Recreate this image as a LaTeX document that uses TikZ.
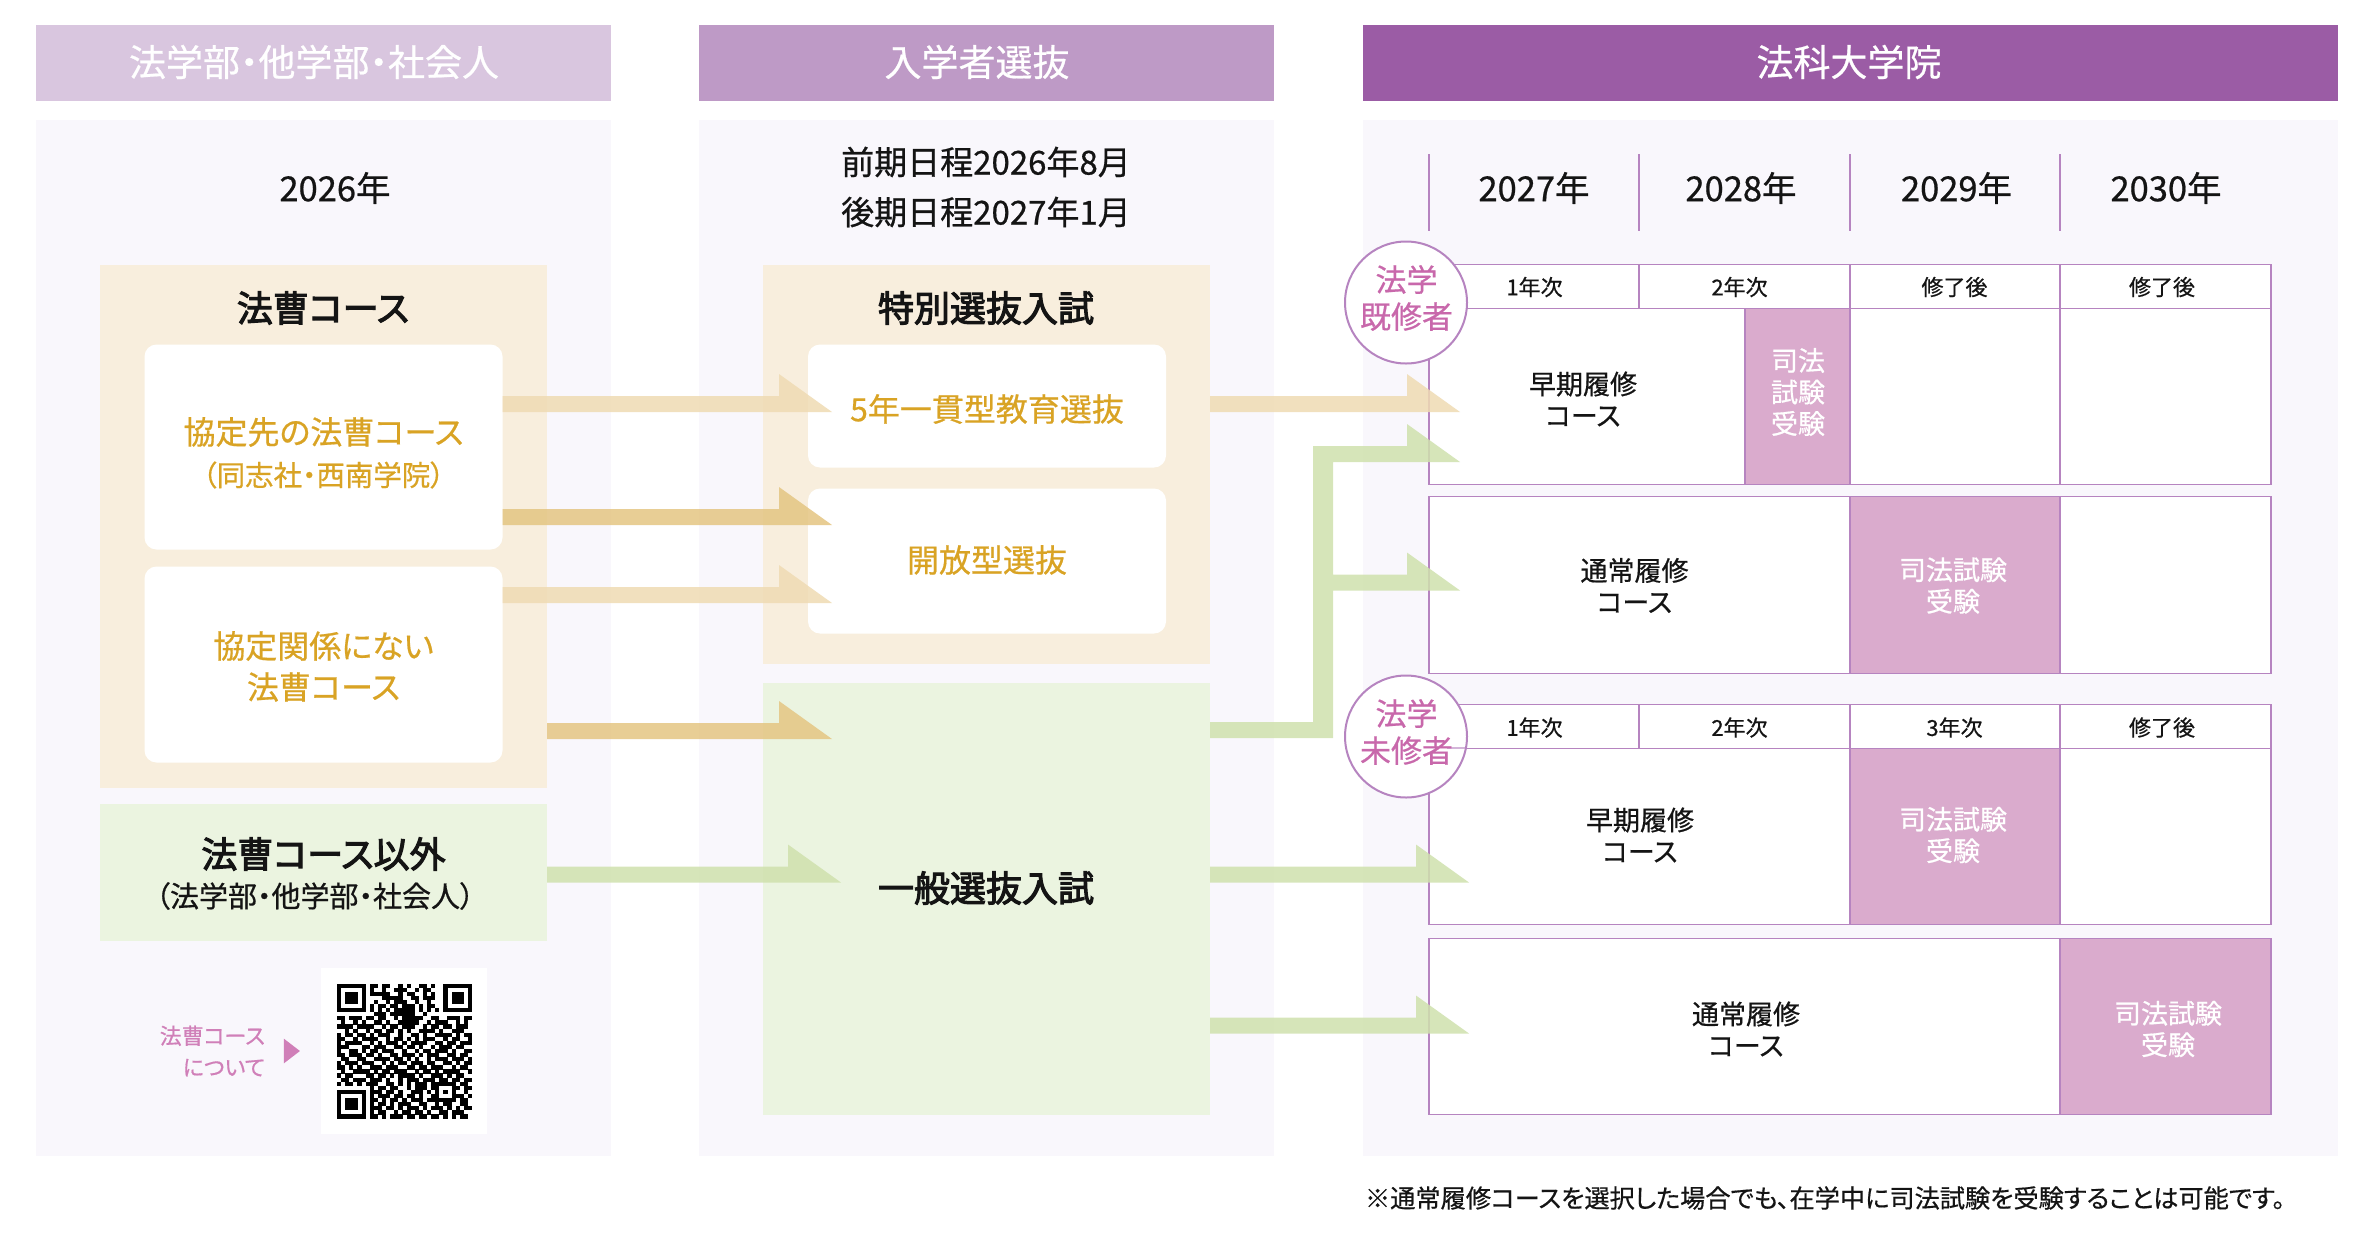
\documentclass[tikz,border=0pt]{standalone}
\usepackage{fontspec}
\setmainfont{Noto Sans CJK JP}[RawFeature=+palt, FakeBold=0.6]
\newfontfamily\ttlfont{Noto Sans CJK JP}[RawFeature=+palt, FakeBold=3]
\usepackage{tikz}
\usetikzlibrary{shapes}
\definecolor{hdra}{HTML}{D9C6DF}
\definecolor{hdrb}{HTML}{BE9AC6}
\definecolor{hdrc}{HTML}{9B5CA5}
\definecolor{panelbg}{HTML}{F9F7FC}
\definecolor{orgbg}{HTML}{F8EEDD}
\definecolor{grnbg}{HTML}{EBF4E0}
\definecolor{orgtxt}{HTML}{D9A324}
\definecolor{pinkbg}{HTML}{DAABCD}
\definecolor{pinktxt}{HTML}{C868AB}
\definecolor{rulec}{HTML}{B684C0}
\definecolor{arrowl}{HTML}{EFDBB3}
\definecolor{arrowd}{HTML}{E4C582}
\definecolor{arrowg}{HTML}{CFE1AD}
\newcommand{\fsz}[1]{\fontsize{#1}{#1}\selectfont}
\newcommand{\fatarrow}[3]{\fill[#1] (#2 |- #3) -- (#3) -- ++(-53,-38) -- ++(0,22) -| (#2 |- #3);}
\newcount\qrcol
\newcommand{\qrbits}[2]{\global\qrcol=0 \def\qrline{#1}\qrnext#2;}
\def\qrnext#1{\ifx#1;\else\if#11\fill (\the\qrcol,\qrline) rectangle +(1.03,1.03);\fi\global\advance\qrcol by 1 \expandafter\qrnext\fi}

\begin{document}
\begin{tikzpicture}[x=1pt, y=-1pt]
      \tikzstyle{every node}=[inner sep=0pt, outer sep=0pt, text=black!92]
      \tikzstyle{hdr}=[text=white, font=\fsz{37}]
      \tikzstyle{ttl}=[font=\fsz{36}\ttlfont]
      \tikzstyle{yr}=[font=\fsz{34.5}]
      \tikzstyle{sub}=[font=\fsz{22}]
      \tikzstyle{crs}=[font=\fontsize{27}{31.5}\selectfont, align=center]
      \tikzstyle{exam}=[crs, text=white]
      \tikzstyle{ora}=[text=orgtxt, font=\fontsize{32}{41}\selectfont, align=center]
      \tikzstyle{wbox}=[fill=white, rounded corners=12pt]
      \tikzstyle{tab}=[fill=white, draw=rulec, line width=1.7pt]
      \tikzstyle{pnk}=[fill=pinkbg, draw=rulec, line width=1.4pt]
      \tikzstyle{rule}=[draw=rulec, line width=1.4pt]
      \tikzstyle{cir}=[circle, fill=white, draw=rulec, line width=2pt, minimum size=122pt]
      \tikzstyle{cirt}=[text=pinktxt, font=\fontsize{31}{37}\selectfont, align=center]
      %%
      \useasboundingbox (0,0) rectangle (2372,1248);
      \node (hdr_a) at (323.5,62.5) [fill=hdra, minimum width=575pt, minimum height=76pt] {};
      \node (hdr_b) at (986.5,62.5) [fill=hdrb, minimum width=575pt, minimum height=76pt] {};
      \node (hdr_c) at (1850.5,62.5) [fill=hdrc, minimum width=975pt, minimum height=76pt] {};
      \node at (314,62) [hdr] {法学部・他学部・社会人};
      \node at (977,62) [hdr] {入学者選抜};
      \node at (1849,62) [hdr] {法科大学院};
      \node (pan_a) at (323.5,638) [fill=panelbg, minimum width=575pt, minimum height=1036pt] {};
      \node (pan_b) at (986.5,638) [fill=panelbg, minimum width=575pt, minimum height=1036pt] {};
      \node (pan_c) at (1850.5,638) [fill=panelbg, minimum width=975pt, minimum height=1036pt] {};
      %%
      \node (org_l) at (323.5,526) [fill=orgbg, minimum width=447pt, minimum height=523pt] {};
      \node (grn_l) at (323.5,872) [fill=grnbg, minimum width=447pt, minimum height=137pt] {};
      \node (wb_a) at (323.5,447) [wbox, minimum width=358pt, minimum height=205pt] {};
      \node (wb_b) at (323.5,664.5) [wbox, minimum width=358pt, minimum height=196pt] {};
      \node (org_m) at (986.5,464.5) [fill=orgbg, minimum width=447pt, minimum height=399pt] {};
      \node (gen_m) at (986.5,898.5) [fill=grnbg, minimum width=447pt, minimum height=432pt] {};
      \node (wb_c) at (987,406) [wbox, minimum width=358pt, minimum height=123pt] {};
      \node (wb_d) at (987,561) [wbox, minimum width=358pt, minimum height=145pt] {};
      \node at (335,188) [yr] {2026年};
      \node at (323,308) [ttl] {法曹コース};
      \node at (323.5,432) [ora] {協定先の法曹コース};
      \node at (323.5,475) [ora, font=\fsz{28.5}] {（同志社・西南学院）};
      \node at (323.5,666.5) [ora] {協定関係にない\\法曹コース};
      \node at (323.5,854) [ttl] {法曹コース以外};
      \node at (315,896) [font=\fsz{29}] {（法学部・他学部・社会人）};
      \node at (986,187) [font=\fontsize{33}{50}\selectfont, align=center] {前期日程2026年8月\\後期日程2027年1月};
      \node at (986,308) [ttl] {特別選抜入試};
      \node at (987,409) [ora] {5年一貫型教育選抜};
      \node at (987,560) [ora] {開放型選抜};
      \node at (986,888) [ttl] {一般選抜入試};
      %%
      \node (fee) at (265,1051) [anchor=east, text=pinktxt!85, font=\fontsize{22}{31.5}\selectfont, align=right] {法曹コース\\について};
      \node (tri) at (290,1051) [isosceles triangle, fill=pinktxt!85, minimum height=16pt, minimum width=21pt, isosceles triangle apex angle=75] {};
      \node (qr_w) at (404,1051) [fill=white, minimum size=166pt] {};
      \begin{scope}[shift={(337,983.5)}, x=4.09pt, y=-4.09pt]
      \qrbits{0}{111111101101100101001101001111111}
      \qrbits{1}{100000101001001110010110001000001}
      \qrbits{2}{101110101111100101100101001011101}
      \qrbits{3}{101110100001111100110111001011101}
      \qrbits{4}{101110100100101110010010001011101}
      \qrbits{5}{100000101011011011101011001000001}
      \qrbits{6}{111111101010101111101010101111111}
      \qrbits{7}{000000000111011111100100000000000}
      \qrbits{8}{110111011011001011111001100111011}
      \qrbits{9}{010010100110100111110010111001010}
      \qrbits{10}{111101111001011011100101101101110}
      \qrbits{11}{001010010110110101001111010011100}
      \qrbits{12}{101101101011100100110100111101011}
      \qrbits{13}{110010111100101101010111001011001}
      \qrbits{14}{101111001010111010111100110110111}
      \qrbits{15}{111000110111001101101001011101100}
      \qrbits{16}{100110101101110010010110111010011}
      \qrbits{17}{110111011010011011101011100110110}
      \qrbits{18}{011001100111101101010010111011101}
      \qrbits{19}{101110111001010110111011001101011}
      \qrbits{20}{110101001110111001101101110010110}
      \qrbits{21}{010011110101101110010110101111001}
      \qrbits{22}{101100011011010111101001110101100}
      \qrbits{23}{011011101110100101110111011011011}
      \qrbits{24}{101101011100110101011101111110110}
      \qrbits{25}{000000001011011001011101100011011}
      \qrbits{26}{111111101110110100111010101010010}
      \qrbits{27}{100000101011101101101001100011101}
      \qrbits{28}{101110101101011010111011111110110}
      \qrbits{29}{101110101011010111001100101100110}
      \qrbits{30}{101110101110110101110101110101011}
      \qrbits{31}{100000101011001011011010011011100}
      \qrbits{32}{111111101101011101101101101010110}
      \end{scope}
      %%
      \node (tab_a) at (1850,374.5) [tab, minimum width=842pt, minimum height=220pt] {};
      \node (tab_b) at (1850,585) [tab, minimum width=842pt, minimum height=177pt] {};
      \node (tab_c) at (1850,814.5) [tab, minimum width=842pt, minimum height=220pt] {};
      \node (tab_d) at (1850,1026.5) [tab, minimum width=842pt, minimum height=176pt] {};
      \node (ex_a) at (1797.5,396.5) [pnk, minimum width=105pt, minimum height=176pt] {};
      \node (ex_b) at (1955,585) [pnk, minimum width=210pt, minimum height=177pt] {};
      \node (ex_c) at (1955,836.5) [pnk, minimum width=210pt, minimum height=176pt] {};
      \node (ex_d) at (2165.5,1026.5) [pnk, minimum width=211pt, minimum height=176pt] {};
      \foreach \xx in {1429,1639,1850,2060} \draw[rule] (\xx,154) -- (\xx,231);
      \draw[rule] (tab_a.west |- ex_a.north) -- (tab_a.east |- ex_a.north);
      \draw[rule] (tab_c.west |- ex_c.north) -- (tab_c.east |- ex_c.north);
      \draw[rule] (1639,265) -- (1639,308);
      \draw[rule] (1850,265) -- (1850,484);
      \draw[rule] (2060,265) -- (2060,484);
      \draw[rule] (1639,704.5) -- (1639,748);
      \draw[rule] (1850,704.5) -- (1850,748);
      \draw[rule] (2060,704.5) -- (2060,924);
      %%
      \tikzstyle{arl}=[fill=arrowl, fill opacity=.85]
      \tikzstyle{ard}=[fill=arrowd, fill opacity=.85]
      \tikzstyle{arg}=[fill=arrowg, fill opacity=.85]
      \coordinate (tip_a) at (832,412);
      \coordinate (tip_b) at (832,525);
      \coordinate (tip_c) at (832,603);
      \coordinate (tip_d) at (832,739);
      \coordinate (tip_e) at (841,882.5);
      \coordinate (tip_f) at (1460,412);
      \coordinate (tip_g) at (1469,882.5);
      \coordinate (tip_h) at (1469,1033.5);
      \fatarrow{arl}{wb_a.east}{tip_a}
      \fatarrow{ard}{wb_a.east}{tip_b}
      \fatarrow{arl}{wb_b.east}{tip_c}
      \fatarrow{ard}{org_l.east}{tip_d}
      \fatarrow{arg}{grn_l.east}{tip_e}
      \fatarrow{arl}{org_m.east}{tip_f}
      \fatarrow{arg}{gen_m.east}{tip_g}
      \fatarrow{arg}{gen_m.east}{tip_h}
      \coordinate (tip_j) at (1460,462);
      \coordinate (tip_k) at (1460,590.5);
      \fill[arg] (gen_m.east |- 0,738) -- (1333,738) |- (tip_k) -- ++(-53,-38) -- ++(0,22) -- (1333,574.5) |- (tip_j) -- ++(-53,-38) -- ++(0,22) -- (1313,446) |- (gen_m.east |- 0,722);
      %%
      \node (cir_a) at (1406,302.5) [cir] {};
      \node (cir_b) at (1406,736.5) [cir] {};
      \draw[rule, draw opacity=.6] (1447,748) -- (1467,748);
      \node at (1406.5,298) [cirt] {法学\\既修者};
      \node at (1406.5,732) [cirt] {法学\\未修者};
      \node at (1534,188) [yr] {2027年};
      \node at (1741,188) [yr] {2028年};
      \node at (1956.5,188) [yr] {2029年};
      \node at (2166,188) [yr] {2030年};
      \node at (1534.5,287) [sub] {1年次};
      \node at (1739.5,287) [sub] {2年次};
      \node at (1954.5,287) [sub] {修了後};
      \node at (2162,287) [sub] {修了後};
      \node at (1534.5,727.5) [sub] {1年次};
      \node at (1739.5,727.5) [sub] {2年次};
      \node at (1954.5,727.5) [sub] {3年次};
      \node at (2162,727.5) [sub] {修了後};
      \node at (1583,399) [crs] {早期履修\\コース};
      \node at (1634.5,585.5) [crs] {通常履修\\コース};
      \node at (1640,835) [crs] {早期履修\\コース};
      \node at (1746,1029) [crs] {通常履修\\コース};
      \node at (1798,392) [exam] {司法\\試験\\受験};
      \node at (1953,585.5) [exam] {司法試験\\受験};
      \node at (1953,835) [exam] {司法試験\\受験};
      \node at (2168,1029) [exam] {司法試験\\受験};
      \node (note) at (1365,1198) [anchor=west, font=\fsz{25.2}] {※通常履修コースを選択した場合でも、在学中に司法試験を受験することは可能です。};
%
\end{tikzpicture}
\end{document}
